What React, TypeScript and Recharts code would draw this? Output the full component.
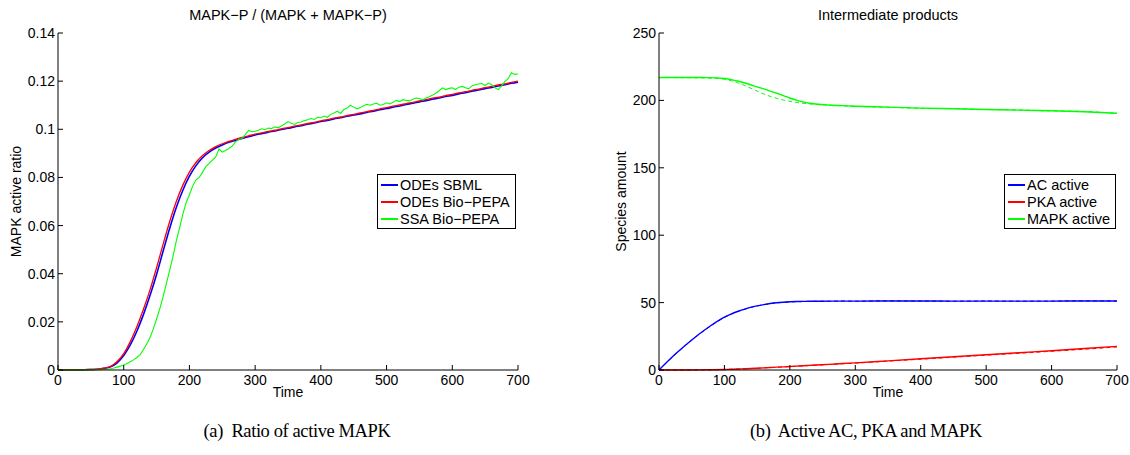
import { LineChart, Line, XAxis, YAxis, Legend } from 'recharts'

const FONT = '"Liberation Sans", Arial, Helvetica, sans-serif'

// ---- left panel: MAPK-P / (MAPK + MAPK-P) ----
const odeTime = Array.from({ length: 71 }, (_, i) => i * 10)
const odeSbml = [
  0, 0, 0, 0, 0.0001, 0.0002, 0.0003, 0.0007, 0.0013, 0.003,
  0.006, 0.0104, 0.0161, 0.023, 0.0309, 0.0397, 0.0494, 0.0589, 0.0675, 0.0747,
  0.0805, 0.0849, 0.0882, 0.0905, 0.0922, 0.0935, 0.0946, 0.0954, 0.0962, 0.0969,
  0.0976, 0.0982, 0.0988, 0.0993, 0.0999, 0.1004, 0.101, 0.1015, 0.1021, 0.1026,
  0.1032, 0.1037, 0.1043, 0.1048, 0.1054, 0.1059, 0.1064, 0.107, 0.1075, 0.1081,
  0.1086, 0.1092, 0.1097, 0.1103, 0.1108, 0.1114, 0.1119, 0.1125, 0.113, 0.1136,
  0.1141, 0.1147, 0.1152, 0.1158, 0.1163, 0.1169, 0.1174, 0.118, 0.1185, 0.1191,
  0.1196,
]
const odeBioPepa = [
  0, 0, 0, 0, 0.0001, 0.0002, 0.0004, 0.0008, 0.0015, 0.0035,
  0.0068, 0.0118, 0.018, 0.0252, 0.0333, 0.0425, 0.0523, 0.0617, 0.07, 0.0768,
  0.0822, 0.0862, 0.0891, 0.0912, 0.0928, 0.094, 0.095, 0.0958, 0.0966, 0.0973,
  0.098, 0.0985, 0.0991, 0.0996, 0.1002, 0.1007, 0.1013, 0.1018, 0.1024, 0.1029,
  0.1035, 0.104, 0.1046, 0.1051, 0.1057, 0.1062, 0.1068, 0.1073, 0.1079, 0.1085,
  0.109, 0.1096, 0.1101, 0.1107, 0.1112, 0.1118, 0.1123, 0.1129, 0.1134, 0.114,
  0.1145, 0.1151, 0.1156, 0.1162, 0.1167, 0.1173, 0.1178, 0.1184, 0.1189, 0.1195,
  0.12,
]
const ssaTime = Array.from({ length: 141 }, (_, i) => i * 5)
const ssaBioPepa = [
  0, 0, 0, 0, 0, 0, 0, 0, 0, 0, 0, 0, 0.0001,
  0.0001, 0.0002, 0.0003, 0.0005, 0.0008, 0.0012, 0.0016, 0.0021, 0.0027, 0.0034,
  0.0042, 0.0052, 0.0064, 0.0085, 0.0108, 0.0135, 0.017, 0.0212, 0.0255, 0.0305,
  0.036, 0.0415, 0.0472, 0.0535, 0.059, 0.0648, 0.0695, 0.0728, 0.0765, 0.079,
  0.08, 0.0822, 0.0845, 0.0858, 0.0872, 0.0885, 0.0918, 0.0905, 0.0912, 0.092,
  0.093, 0.0948, 0.0958, 0.0962, 0.0978, 0.0995, 0.099, 0.0992, 0.0996, 0.1002,
  0.0998, 0.1005, 0.1003, 0.101, 0.1006, 0.1014, 0.1022, 0.1032, 0.1025, 0.102,
  0.1028, 0.103, 0.1036, 0.104, 0.1045, 0.1041, 0.105, 0.1048, 0.1055, 0.105,
  0.1062, 0.1068, 0.1075, 0.1066, 0.1082, 0.1088, 0.11, 0.1092, 0.1085, 0.109,
  0.1098, 0.1104, 0.11, 0.1105, 0.1108, 0.11, 0.1103, 0.111, 0.1105, 0.1112,
  0.112, 0.1115, 0.1123, 0.112, 0.1118, 0.1125, 0.113, 0.1128, 0.1122, 0.113,
  0.1135, 0.1142, 0.115, 0.116, 0.1172, 0.1165, 0.117, 0.1172, 0.1165, 0.1175,
  0.1178, 0.1173, 0.1168, 0.118, 0.1185, 0.1188, 0.119, 0.1182, 0.1192, 0.1185,
  0.1172, 0.1165, 0.118, 0.1198, 0.121, 0.1235, 0.1228, 0.123,
]
const ratioTicks = [0, 0.02, 0.04, 0.06, 0.08, 0.1, 0.12, 0.14]

// ---- right panel: intermediate products ----
const speciesTime = [
  0, 25, 50, 75, 100, 110, 120, 130, 140, 150, 160, 170, 180, 190, 200,
  210, 220, 230, 240, 260, 280, 300, 350, 400, 450, 500, 550, 600, 650, 700,
]
const acActive = [
  0, 11.8, 22.3, 31.5, 39.2, 41.5, 43.4, 45, 46.5, 47.6, 48.5, 49.3, 49.9, 50.3, 50.6,
  50.8, 50.9, 51, 51, 51.1, 51.1, 51.1, 51.2, 51.2, 51.1, 51.1, 51.1, 51.1, 51.2, 51.2,
]
const acActiveSsa = [
  0, 11.6, 22.1, 31.3, 39, 41.4, 43.3, 44.9, 46.4, 47.5, 48.4, 49.2, 49.8, 50.2, 50.5,
  50.7, 50.9, 50.9, 51, 51, 51.2, 51, 51.3, 51.1, 51, 51.2, 51, 51.1, 51.3, 51.1,
]
const pkaActive = [
  0, 0, 0.05, 0.15, 0.4, 0.55, 0.7, 0.9, 1.1, 1.35, 1.6, 1.85, 2.1, 2.35, 2.6,
  2.85, 3.1, 3.4, 3.7, 4.2, 4.8, 5.3, 6.8, 8.3, 9.8, 11.3, 12.8, 14.3, 15.9, 17.5,
]
const pkaActiveSsa = [
  0, 0, 0.04, 0.12, 0.35, 0.5, 0.65, 0.85, 1.05, 1.3, 1.55, 1.8, 2, 2.25, 2.5,
  2.75, 3, 3.3, 3.55, 4.1, 4.6, 5.1, 6.6, 8, 9.5, 11, 12.4, 13.9, 15.4, 17.1,
]
const mapkActive = [
  217, 217, 217, 216.9, 216.2, 215.4, 214.4, 213.1, 211.6, 210, 208.5, 206.9, 205.3, 203.6, 201.8,
  200.2, 198.9, 197.9, 197.3, 196.6, 196.1, 195.7, 195, 194.3, 193.8, 193.3, 192.8, 192.3, 191.6, 190.5,
]
const mapkActiveSsa = [
  217, 216.9, 216.8, 216.6, 215.7, 214.6, 213.1, 211.2, 209.1, 206.9, 204.8, 203, 201.5, 200.3, 199.3,
  198.5, 197.9, 197.4, 197, 196.4, 196, 195.6, 194.9, 194.1, 193.9, 193.2, 192.9, 192.2, 191.8, 190.3,
]
const amountTicks = [0, 50, 100, 150, 200, 250]
const timeTicks = [0, 100, 200, 300, 400, 500, 600, 700]

const leftNames = ['ODEs SBML', 'ODEs Bio\u2212PEPA', 'SSA Bio\u2212PEPA']
const rightNames = ['AC active', 'PKA active', 'MAPK active']

const toPoints = (xs: number[], ys: number[], key: string) => xs.map((t, i) => ({ t, [key]: ys[i] }))

const tickStyle = { fill: '#000', fontSize: 14, fontFamily: FONT }

function BoxLegend({ payload, order }: any) {
  const items = (payload || [])
    .filter((a: any) => order.includes(a.value))
    .sort((a: any, b: any) => order.indexOf(a.value) - order.indexOf(b.value))
  return (
    <div
      style={{
        border: '1.5px solid #000',
        background: '#fff',
        fontFamily: FONT,
        fontSize: 14.5,
        color: '#000',
        padding: '1px 0 1px 3px',
        boxSizing: 'border-box',
        height: 55,
        whiteSpace: 'nowrap',
        textAlign: 'left',
      }}
    >
      {items.map((it: any) => (
        <div key={it.value} style={{ display: 'flex', alignItems: 'center', height: 17 }}>
          <span style={{ display: 'inline-block', width: 17, height: 0, borderTop: `2px solid ${it.color}`, marginRight: 2 }} />
          <span>{it.value}</span>
        </div>
      ))}
    </div>
  )
}

function axes(yTicks: number[], yMax: number, yWidth: number, yLabel: string, labelOffset: number) {
  return [
    <XAxis
      key="xb"
      type="number"
      dataKey="t"
      domain={[0, 700]}
      ticks={timeTicks}
      height={30}
      tickSize={-5}
      tickMargin={10}
      tick={tickStyle}
      stroke="#000"
      allowDuplicatedCategory={false}
      label={{ value: 'Time', position: 'insideBottom', offset: 3, fill: '#000', fontSize: 14, fontFamily: FONT }}
    />,
    <XAxis
      key="xt"
      xAxisId="top"
      orientation="top"
      type="number"
      dataKey="t"
      domain={[0, 700]}
      ticks={timeTicks}
      height={0}
      tickSize={-5}
      tickFormatter={() => ''}
      stroke="#000"
    />,
    <YAxis
      key="yl"
      type="number"
      domain={[0, yMax]}
      ticks={yTicks}
      width={yWidth}
      tickSize={-5}
      tickMargin={8}
      tick={tickStyle}
      stroke="#000"
      label={{
        value: yLabel,
        angle: -90,
        position: 'insideLeft',
        offset: labelOffset,
        style: { textAnchor: 'middle' },
        fill: '#000',
        fontSize: 14,
        fontFamily: FONT,
      }}
    />,
    <YAxis
      key="yr"
      yAxisId="right"
      orientation="right"
      type="number"
      domain={[0, yMax]}
      ticks={yTicks}
      width={0}
      tickSize={-5}
      tickFormatter={() => ''}
      stroke="#000"
    />,
  ]
}

const titleStyle = (center: number): any => ({
  position: 'absolute',
  left: center - 200,
  width: 400,
  top: 7,
  textAlign: 'center',
  fontFamily: FONT,
  fontSize: 14.5,
  color: '#000',
})

const captionStyle = (center: number): any => ({
  position: 'absolute',
  left: center - 200,
  width: 400,
  top: 421,
  textAlign: 'center',
  fontFamily: '"Liberation Serif", "Times New Roman", serif',
  fontSize: 18.5,
  letterSpacing: -0.4,
  color: '#000',
})

export default function App() {
  return (
    <div style={{ position: 'absolute', left: 0, top: 0, width: 1130, height: 455, background: '#fff' }}>
      <div style={{ position: 'absolute', left: 0, top: 0 }}>
        <LineChart width={565} height={400} margin={{ top: 33, right: 47, bottom: 0, left: 0 }}>
          {axes(ratioTicks, 0.14, 58, 'MAPK active ratio', 16)}
          <Line data={toPoints(odeTime, odeSbml, 'sbml')} dataKey="sbml" name={leftNames[0]} stroke="#0000ff" strokeWidth={1.6} dot={false} type="monotone" isAnimationActive={false} />
          <Line data={toPoints(odeTime, odeBioPepa, 'ode')} dataKey="ode" name={leftNames[1]} stroke="#ff0000" strokeWidth={1.3} dot={false} type="monotone" isAnimationActive={false} />
          <Line data={toPoints(ssaTime, ssaBioPepa, 'ssa')} dataKey="ssa" name={leftNames[2]} stroke="#00ff00" strokeWidth={1.1} dot={false} type="linear" isAnimationActive={false} />
          <Legend
            layout="horizontal"
            verticalAlign="middle"
            align="center"
            wrapperStyle={{ left: 377, top: 174, width: 139, height: 55 }}
            content={(p: any) => <BoxLegend payload={p.payload} order={leftNames} />}
          />
        </LineChart>
      </div>
      <div style={{ position: 'absolute', left: 565, top: 0 }}>
        <LineChart width={565} height={400} margin={{ top: 33, right: 13, bottom: 0, left: 0 }}>
          {axes(amountTicks, 250, 94, 'Species amount', 56)}
          <Line data={toPoints(speciesTime, acActiveSsa, 'acSsa')} dataKey="acSsa" name="AC SSA" legendType="none" stroke="#0000ff" strokeWidth={1} strokeDasharray="4 3" dot={false} type="monotone" isAnimationActive={false} />
          <Line data={toPoints(speciesTime, pkaActiveSsa, 'pkaSsa')} dataKey="pkaSsa" name="PKA SSA" legendType="none" stroke="#ff0000" strokeWidth={1} strokeDasharray="4 3" dot={false} type="monotone" isAnimationActive={false} />
          <Line data={toPoints(speciesTime, mapkActiveSsa, 'mapkSsa')} dataKey="mapkSsa" name="MAPK SSA" legendType="none" stroke="#00ff00" strokeWidth={1} strokeDasharray="4 3" dot={false} type="monotone" isAnimationActive={false} />
          <Line data={toPoints(speciesTime, acActive, 'ac')} dataKey="ac" name={rightNames[0]} stroke="#0000ff" strokeWidth={1.4} dot={false} type="monotone" isAnimationActive={false} />
          <Line data={toPoints(speciesTime, pkaActive, 'pka')} dataKey="pka" name={rightNames[1]} stroke="#ff0000" strokeWidth={1.4} dot={false} type="monotone" isAnimationActive={false} />
          <Line data={toPoints(speciesTime, mapkActive, 'mapk')} dataKey="mapk" name={rightNames[2]} stroke="#00ff00" strokeWidth={1.4} dot={false} type="monotone" isAnimationActive={false} />
          <Legend
            layout="horizontal"
            verticalAlign="middle"
            align="center"
            wrapperStyle={{ left: 439, top: 174, width: 112, height: 55 }}
            content={(p: any) => <BoxLegend payload={p.payload} order={rightNames} />}
          />
        </LineChart>
      </div>
      <div style={titleStyle(288)}>MAPK{'\u2212'}P / (MAPK + MAPK{'\u2212'}P)</div>
      <div style={titleStyle(888)}>Intermediate products</div>
      <div style={captionStyle(297)}>(a)&nbsp; Ratio of active MAPK</div>
      <div style={captionStyle(866)}>(b)&nbsp; Active AC, PKA and MAPK</div>
    </div>
  )
}
